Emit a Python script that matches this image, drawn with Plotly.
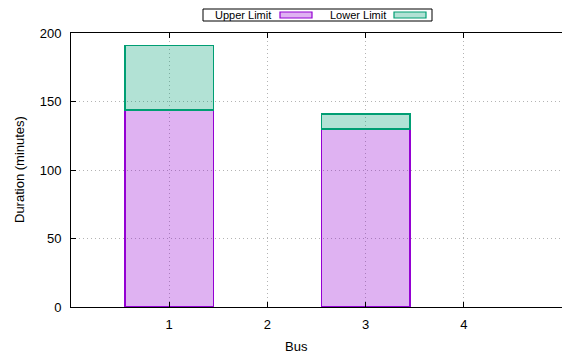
import plotly.graph_objects as go

# Per-bus durations (minutes); the second series is stacked on the first
buses = [1, 3]
upper_limit = [144, 130]
lower_limit = [47, 11]
bus_ticks = [1, 2, 3, 4]
duration_ticks = [0, 50, 100, 150, 200]

PURPLE = "rgb(148,0,211)"
PURPLE_FILL = "rgba(148,0,211,0.3)"
GREEN = "rgb(0,158,115)"
GREEN_FILL = "rgba(0,158,115,0.3)"
GRID = "#b4b4b4"
FONT = "Liberation Sans, Arial, sans-serif"

fig = go.Figure()
fig.add_trace(go.Bar(
    x=buses, y=upper_limit, name="Upper Limit", width=0.9,
    marker=dict(color=PURPLE_FILL, line=dict(color=PURPLE, width=1.6)),
))
fig.add_trace(go.Bar(
    x=buses, y=lower_limit, name="Lower Limit", width=0.9,
    marker=dict(color=GREEN_FILL, line=dict(color=GREEN, width=1.6)),
))

fig.update_layout(
    width=562, height=354,
    margin=dict(l=71, r=0, t=33, b=47),
    barmode="stack",
    showlegend=False,
    plot_bgcolor="white", paper_bgcolor="white",
    font=dict(family=FONT, size=13, color="black"),
    xaxis=dict(
        range=[0, 5], tickvals=bus_ticks, ticktext=[str(b) for b in bus_ticks],
        ticks="inside", ticklen=5, tickcolor="black",
        showline=True, linecolor="black", linewidth=1, mirror="ticks",
        showgrid=True, gridcolor=GRID, griddash="1px,3px", gridwidth=1,
        zeroline=False, ticklabelstandoff=5,
    ),
    yaxis=dict(
        range=[0, 200], tickvals=duration_ticks,
        ticks="inside", ticklen=5, tickcolor="black",
        showline=True, linecolor="black", linewidth=1,
        showgrid=True, gridcolor=GRID, griddash="1px,3px", gridwidth=1,
        zeroline=False, ticklabelstandoff=6,
    ),
)

def px_x(px):
    return (px - 71) / (562 - 71)

def px_y(py):
    return (307 - py) / (307 - 33)

# Axis titles
fig.add_annotation(text="Bus", xref="paper", yref="paper", x=px_x(296), y=px_y(346),
                   xanchor="center", yanchor="middle", showarrow=False,
                   font=dict(size=13))
fig.add_annotation(text="Duration (minutes)", xref="paper", yref="paper",
                   x=px_x(19), y=0.5, textangle=-90, xanchor="center",
                   yanchor="middle", showarrow=False, font=dict(size=13))

# Key box at the top: label followed by its sample
fig.add_shape(type="rect", xref="paper", yref="paper",
              x0=px_x(203), x1=px_x(432), y0=px_y(21), y1=px_y(9),
              line=dict(color="black", width=1), fillcolor="white")
key = [("Upper Limit", 273, 280, 312, PURPLE, PURPLE_FILL),
       ("Lower Limit", 388, 394, 426, GREEN, GREEN_FILL)]
for label, text_right, s0, s1, edge, fill in key:
    fig.add_annotation(text=label, xref="paper", yref="paper",
                       x=px_x(text_right), y=px_y(15), xanchor="right",
                       yanchor="middle", showarrow=False,
                       font=dict(size=11))
    fig.add_shape(type="rect", xref="paper", yref="paper",
                  x0=px_x(s0), x1=px_x(s1), y0=px_y(18), y1=px_y(12),
                  line=dict(color=edge, width=1.2), fillcolor=fill)

fig.write_html("out.html")
